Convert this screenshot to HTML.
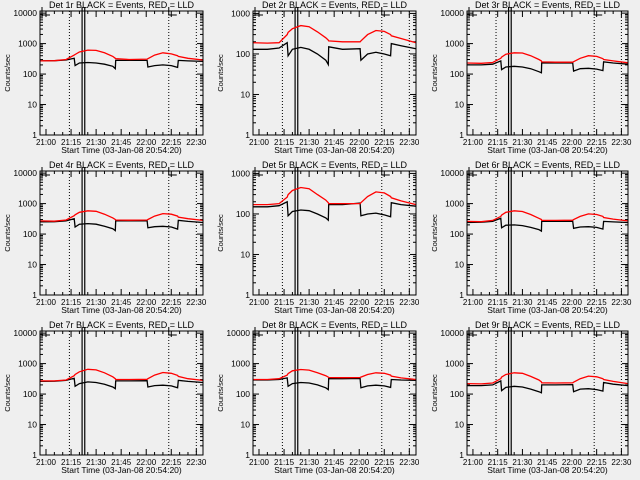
<!DOCTYPE html>
<html><head><meta charset="utf-8"><style>
html,body{margin:0;padding:0;background:#efefef;}
svg{display:block;font-family:"Liberation Sans",sans-serif;}
</style></head><body>
<svg id="chart" width="640" height="480" viewBox="0 0 640 480" xmlns="http://www.w3.org/2000/svg">
<rect width="640" height="480" fill="#efefef"/>
</svg>
<script>
// minutes relative to 21:00
const times = [-3.6, 5, 12, 16.9, 17.4, 20, 25, 30, 35, 40, 41.5, 41.7, 50, 60.5, 61, 65, 70, 75, 78.8, 79.2, 85, 94];
const xTickLabels = ["21:00","21:15","21:30","21:45","22:00","22:15","22:30"];
const xTickMinutes = [0,15,30,45,60,75,90];
const yTickLabels = ["1","10","100","1000","10000"];
const detNames = ["1r","2r","3r","4r","5r","6r","7r","8r","9r"];
const yMaxLog = [4.07,3.06,4.07,4.07,3.06,4.07,4.07,4.07,4.07];
const dottedMinutes = [14, 73.5, 90];
const solidMinutes = [21.6, 23.2];
const black1 = [270,275,290,330,190,230,240,230,210,180,150,280,280,280,170,190,200,190,165,280,270,260];
const red1 = [270,275,300,420,440,530,610,600,500,380,330,320,300,310,320,420,500,460,400,380,330,290];
const black2 = [130,130,140,190,90,130,145,130,100,70,55,150,130,135,70,100,110,100,90,180,160,135];
const red2 = [190,185,190,300,340,420,500,470,350,250,220,210,200,200,210,300,380,360,300,280,240,190];
const black3 = [200,200,210,270,140,170,180,170,150,120,110,230,230,235,125,150,155,145,130,250,230,210];
const red3 = [230,225,240,330,360,450,500,490,400,300,270,250,245,245,255,330,400,380,320,300,270,235];
const black4 = [250,255,270,320,170,210,220,210,180,150,130,270,270,275,160,175,180,170,145,280,260,240];
const red4 = [270,265,290,400,430,520,580,560,450,340,300,290,285,290,300,390,470,450,390,360,320,280];
const black5 = [150,150,160,200,90,115,125,120,100,80,70,170,170,185,90,100,105,95,85,190,170,155];
const red5 = [170,170,180,260,300,380,450,420,300,220,190,180,180,180,190,270,350,330,270,250,210,170];
const black6 = [240,245,260,330,160,195,200,190,165,140,125,260,260,265,155,170,175,165,145,260,250,240];
const red6 = [260,255,280,380,420,520,580,550,440,330,300,280,280,285,300,380,460,440,380,350,310,270];
const black7 = [260,265,280,330,180,220,250,240,210,170,150,270,270,275,170,190,195,185,160,280,260,240];
const red7 = [270,270,290,400,440,540,650,620,500,370,320,300,300,305,320,420,510,480,410,380,320,280];
const black8 = [290,290,300,340,180,220,240,230,200,160,140,320,320,325,160,185,195,185,165,300,290,280];
const red8 = [300,300,320,420,470,580,640,610,500,400,360,350,345,350,360,440,500,480,420,390,340,300];
const black9 = [190,190,200,270,130,165,180,170,145,120,110,200,200,205,120,145,150,140,125,240,210,190];
const red9 = [220,215,230,320,360,440,500,480,380,290,250,235,230,235,245,320,390,370,320,300,260,220];
const blacks = [black1,black2,black3,black4,black5,black6,black7,black8,black9];
const reds = [red1,red2,red3,red4,red5,red6,red7,red8,red9];

const NS = "http://www.w3.org/2000/svg";
const svg = document.getElementById("chart");
function mk(tag, attrs, parent){
  const e = document.createElementNS(NS, tag);
  for (const k in attrs) e.setAttribute(k, attrs[k]);
  (parent||svg).appendChild(e);
  return e;
}
const colX = [40,253,467], colW = [163,163,161];
for (let p=0;p<9;p++){
  const r = Math.floor(p/3), c = p%3;
  const x0 = colX[c], w = colW[c], y0 = r*160+11, y1 = r*160+135;
  const g = mk("g",{});
  
  
  const xs = m => x0 + (m + 3.6) * (w/97.6);
  const ys = v => y1 - Math.log10(v) / yMaxLog[p] * (y1 - y0);
  const t = mk("text",{x:x0+w/2,y:y0-3,"font-size":"9","text-anchor":"middle",fill:"#000"},g);
  t.textContent = "Det "+detNames[p]+" BLACK = Events, RED = LLD";
  
  
  const yt = mk("text",{x:0,y:0,"font-size":"7.5","text-anchor":"middle",fill:"#000",transform:`translate(${x0-30},${(y0+y1)/2}) rotate(-90)`},g);
  yt.textContent = "Counts/sec";
  
  
  const xt = mk("text",{x:x0+w/2,y:y1+18,"font-size":"8.5","text-anchor":"middle",fill:"#000"},g);
  xt.textContent = "Start Time (03-Jan-08 20:54:20)";
  
  
  const nDec = Math.floor(yMaxLog[p]);
  for (let d=0; d<=nDec; d++){
    const yy = ys(Math.pow(10,d));
    mk("line",{x1:x0,x2:x0+6,y1:yy,y2:yy,stroke:"#000"},g);
    mk("line",{x1:x0+w,x2:x0+w-6,y1:yy,y2:yy,stroke:"#000"},g);
    const yl = mk("text",{x:x0-3,y:yy+3,"font-size":"8.5","text-anchor":"end",fill:"#000"},g);
    yl.textContent = yTickLabels[d];
    
    
    if (d<nDec) for (let k=2;k<10;k++){
      const ym = ys(k*Math.pow(10,d));
      mk("line",{x1:x0,x2:x0+3,y1:ym,y2:ym,stroke:"#000"},g);
      mk("line",{x1:x0+w,x2:x0+w-3,y1:ym,y2:ym,stroke:"#000"},g);
    }
  }
  xTickMinutes.forEach((m,i)=>{
    const xx = xs(m);
    mk("line",{x1:xx,x2:xx,y1:y1,y2:y1-6,stroke:"#000"},g);
    mk("line",{x1:xx,x2:xx,y1:y0,y2:y0+6,stroke:"#000"},g);
    for (let k=1;k<3;k++){ const xm = xs(m+k*5); if (xm<x0+w){
      mk("line",{x1:xm,x2:xm,y1:y1,y2:y1-3,stroke:"#000"},g);
      mk("line",{x1:xm,x2:xm,y1:y0,y2:y0+3,stroke:"#000"},g);}}
    const xl = mk("text",{x:xx,y:y1+10,"font-size":"8","text-anchor":"middle",fill:"#000"},g);
    xl.textContent = xTickLabels[i];
    
    
  });
  dottedMinutes.forEach(m=>{
    const xx = xs(m);
    mk("line",{x1:xx,x2:xx,y1:y0,y2:y1,stroke:"#000","stroke-dasharray":"1,2"},g);
  });
  solidMinutes.forEach(m=>{
    const xx = xs(m);
    mk("line",{x1:xx,x2:xx,y1:y0-4,y2:y1,stroke:"#000","stroke-width":"1.2"},g);
  });
  [x0+2, xs(73.5)].forEach(bx=>{
    mk("polyline",{points:`${bx},${y0-4} ${bx},${y0+4} ${bx+8},${y0+4}`,fill:"none",stroke:"#000"},g);
  });
  const pb = times.map((m,i)=>xs(m).toFixed(1)+","+ys(blacks[p][i]).toFixed(1)).join(" ");
  const lb = mk("polyline",{points:pb,fill:"none",stroke:"#000","stroke-width":"1.3"},g);
  
  
  const pr = times.map((m,i)=>xs(m).toFixed(1)+","+ys(reds[p][i]).toFixed(1)).join(" ");
  const lr = mk("polyline",{points:pr,fill:"none",stroke:"#f00","stroke-width":"1.3"},g);
  
  
  const fr = mk("rect",{x:x0,y:y0,width:w,height:y1-y0,fill:"none",stroke:"#000"},g);
  
  
}
</script>
</body></html>
